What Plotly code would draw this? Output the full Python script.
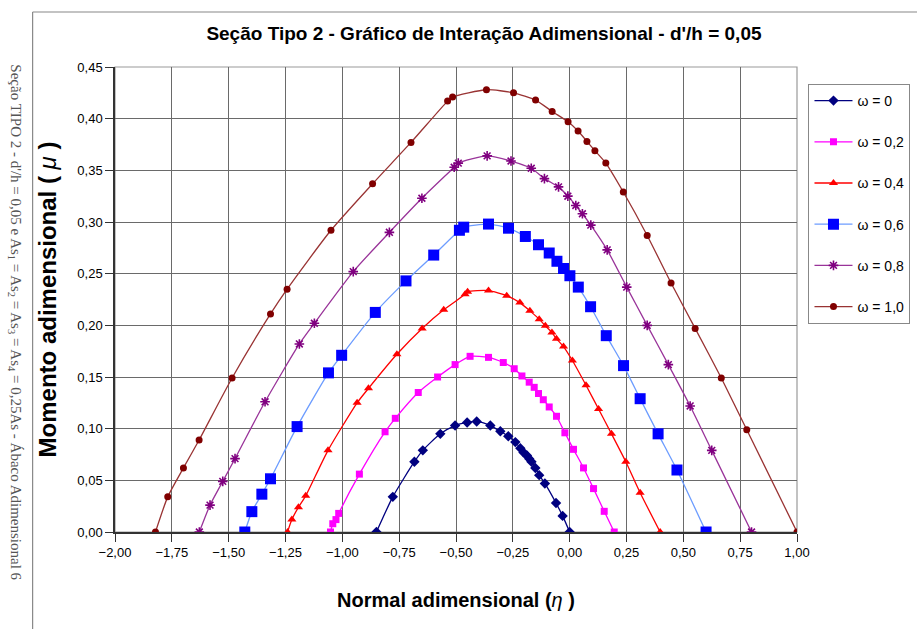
import plotly.graph_objects as go

# ---- data ----
eta_w00 = [-0.85, -0.778, -0.683, -0.646, -0.569, -0.504, -0.451, -0.409, -0.349, -0.305, -0.270, -0.239,
           -0.217, -0.203, -0.188, -0.178, -0.168, -0.151, -0.134, -0.109, -0.060, -0.031, 0.0]
mu_w00 = [0.0, 0.034, 0.068, 0.079, 0.095, 0.103, 0.106, 0.107, 0.103, 0.0975, 0.0926, 0.087,
          0.081, 0.077, 0.074, 0.071, 0.068, 0.062, 0.055, 0.047, 0.028, 0.0156, 0.0]

eta_w02 = [-1.052, -1.042, -1.028, -1.016, -0.925, -0.812, -0.767, -0.666, -0.581, -0.504, -0.438, -0.357,
           -0.292, -0.244, -0.210, -0.178, -0.156, -0.137, -0.116, -0.090, -0.058, -0.021, 0.017, 0.061,
           0.105, 0.152, 0.196]
mu_w02 = [0.0, 0.008, 0.012, 0.018, 0.056, 0.097, 0.110, 0.135, 0.150, 0.162, 0.170, 0.169,
          0.164, 0.158, 0.151, 0.145, 0.140, 0.134, 0.128, 0.121, 0.112, 0.096, 0.080, 0.062,
          0.042, 0.020, 0.0]

eta_w04 = [-1.241, -1.222, -1.193, -1.161, -1.063, -0.935, -0.885, -0.76, -0.649, -0.554, -0.460, -0.449,
           -0.357, -0.277, -0.219, -0.175, -0.134, -0.107, -0.078, -0.058, -0.027, 0.012, 0.072, 0.127,
           0.184, 0.247, 0.310, 0.398]
mu_w04 = [0.0, 0.012, 0.024, 0.035, 0.079, 0.125, 0.139, 0.172, 0.197, 0.215, 0.230, 0.2326,
          0.2336, 0.2287, 0.222, 0.214, 0.206, 0.1995, 0.193, 0.187, 0.1795, 0.166, 0.142, 0.119,
          0.095, 0.068, 0.038, 0.0]

eta_w06 = [-1.429, -1.398, -1.354, -1.316, -1.199, -1.061, -1.003, -0.855, -0.720, -0.598, -0.485, -0.466,
           -0.357, -0.269, -0.195, -0.137, -0.090, -0.056, -0.027, 0.001, 0.038, 0.092, 0.161, 0.237,
           0.310, 0.389, 0.472, 0.60]
mu_w06 = [0.0, 0.0197, 0.0366, 0.0515, 0.102, 0.154, 0.171, 0.2125, 0.243, 0.268, 0.292, 0.295,
          0.298, 0.294, 0.286, 0.278, 0.270, 0.262, 0.255, 0.248, 0.237, 0.218, 0.190, 0.161,
          0.129, 0.095, 0.060, 0.0]

eta_w08 = [-1.629, -1.582, -1.526, -1.472, -1.340, -1.189, -1.123, -0.952, -0.793, -0.650, -0.508, -0.490,
           -0.363, -0.258, -0.169, -0.111, -0.049, -0.008, 0.027, 0.056, 0.093, 0.165, 0.251, 0.341,
           0.434, 0.530, 0.625, 0.80]
mu_w08 = [0.0, 0.026, 0.049, 0.071, 0.126, 0.182, 0.202, 0.252, 0.290, 0.323, 0.353, 0.357,
          0.364, 0.359, 0.352, 0.342, 0.334, 0.325, 0.316, 0.308, 0.297, 0.273, 0.237, 0.200,
          0.162, 0.122, 0.079, 0.0]

eta_w10 = [-1.822, -1.768, -1.699, -1.630, -1.485, -1.316, -1.243, -1.050, -0.867, -0.698, -0.537, -0.515,
           -0.366, -0.247, -0.150, -0.077, -0.007, 0.037, 0.076, 0.111, 0.159, 0.236, 0.341, 0.446,
           0.552, 0.667, 0.779, 1.0]
mu_w10 = [0.0, 0.034, 0.062, 0.089, 0.149, 0.211, 0.235, 0.292, 0.337, 0.377, 0.417, 0.421,
          0.428, 0.425, 0.418, 0.407, 0.397, 0.388, 0.378, 0.369, 0.357, 0.329, 0.287, 0.241,
          0.197, 0.149, 0.099, 0.0]

series_names = ["ω = 0", "ω = 0,2", "ω = 0,4", "ω = 0,6", "ω = 0,8", "ω = 1,0"]

# ---- styles ----
styles = [
    dict(line="#000080", marker="#000080", symbol="diamond", size=8, lw=0),
    dict(line="#FF00FF", marker="#FF00FF", symbol="square", size=7, lw=0),
    dict(line="#FF0000", marker="#FF0000", symbol="triangle-up", size=8, lw=0),
    dict(line="#6C9CFF", marker="#0000FF", symbol="square", size=11, lw=0),
    dict(line="#993399", marker="#800080", symbol="asterisk-open", size=8, lw=1.6),
    dict(line="#993333", marker="#800000", symbol="circle", size=7, lw=0),
]

data = [(eta_w00, mu_w00), (eta_w02, mu_w02), (eta_w04, mu_w04),
        (eta_w06, mu_w06), (eta_w08, mu_w08), (eta_w10, mu_w10)]

FONT = "Liberation Sans, Arial, sans-serif"

# plot area in pixels (from reference)
L, R, T, B = 114.5, 797.5, 67, 532
W, H = 917, 629
PW, PH = R - L, B - T


def px(xp):
    return (xp - L) / PW


def py(yp):
    return (B - yp) / PH


fig = go.Figure()
for i, ((x, y), name, st) in enumerate(zip(data, series_names, styles)):
    marker = dict(symbol=st["symbol"], size=st["size"], color=st["marker"])
    if st["lw"]:
        marker["line"] = dict(color=st["marker"], width=st["lw"])
    fig.add_trace(go.Scatter(
        x=x, y=y, name=name, mode="lines+markers", legendgroup=f"g{i}",
        line=dict(color=st["line"], width=1.3, shape="spline", smoothing=0.6),
        marker=marker,
    ))

fig.update_layout(
    width=W, height=H,
    margin=dict(l=L, r=W - R, t=T, b=H - B, autoexpand=False),
    paper_bgcolor="white", plot_bgcolor="white",
    separators=",.",
    showlegend=True,
    title=dict(text="<b>Seção Tipo 2 - Gráfico de Interação Adimensional - d'/h = 0,05</b>",
               x=px(484), xref="paper", xanchor="center", y=1 - 33 / H, yanchor="middle",
               font=dict(family=FONT, size=19, color="black")),
    legend=dict(x=px(809), y=py(84), xanchor="left", yanchor="top",
                bgcolor="white", bordercolor="#888888", borderwidth=1,
                font=dict(family=FONT, size=14, color="black"),
                tracegroupgap=20, itemwidth=38),
    xaxis=dict(range=[-2, 1], dtick=0.25, tick0=-2, tickformat=".2f",
               showgrid=True, gridcolor="#6a6a6a", gridwidth=1,
               showline=True, linecolor="#333333", linewidth=1.5,
               ticks="outside", ticklen=8, tickcolor="#333333",
               zeroline=False, automargin=False,
               tickfont=dict(family=FONT, size=13, color="black"),
               title=dict(text="<b>Normal adimensional (</b><i>η</i> <b>)</b>",
                          font=dict(family=FONT, size=20, color="black"), standoff=34)),
    yaxis=dict(range=[0, 0.45], dtick=0.05, tick0=0, tickformat=".2f",
               showgrid=True, gridcolor="#6a6a6a", gridwidth=1,
               showline=True, linecolor="#333333", linewidth=1.5,
               ticks="outside", ticklen=8, tickcolor="#333333",
               zeroline=False, automargin=False,
               tickfont=dict(family=FONT, size=13, color="black"),
               title=dict(text="<b>Momento adimensional ( </b><i>μ</i> <b>)</b>",
                          font=dict(family=FONT, size=24, color="black"),
                          standoff=14)),
    shapes=[
        dict(type="rect", xref="paper", yref="paper", x0=0, x1=1, y0=0, y1=1,
             line=dict(color="#9a9a9a", width=1.2), layer="below"),
        dict(type="line", xref="paper", yref="paper",
             x0=px(32), x1=px(32), y0=py(H + 5), y1=py(12),
             line=dict(color="#888888", width=1.2)),
        dict(type="line", xref="paper", yref="paper",
             x0=px(32), x1=px(W + 5), y0=py(12), y1=py(12),
             line=dict(color="#888888", width=1.2)),
    ],
    annotations=[
        dict(text="Seção TIPO 2 - d'/h = 0,05 e As<sub>1</sub> = As<sub>2</sub> = As<sub>3</sub> = As<sub>4</sub> = 0,25As - Ábaco Adimensional 6",
             xref="paper", yref="paper", x=px(14), y=py(322),
             xanchor="center", yanchor="middle", textangle=90, showarrow=False,
             font=dict(family="Liberation Serif, Times New Roman, serif", size=15, color="#555555")),
    ],
)

fig.write_html("out.html", config={"displayModeBar": False},
               post_script="document.body.style.margin='0';document.body.style.overflow='hidden';")
